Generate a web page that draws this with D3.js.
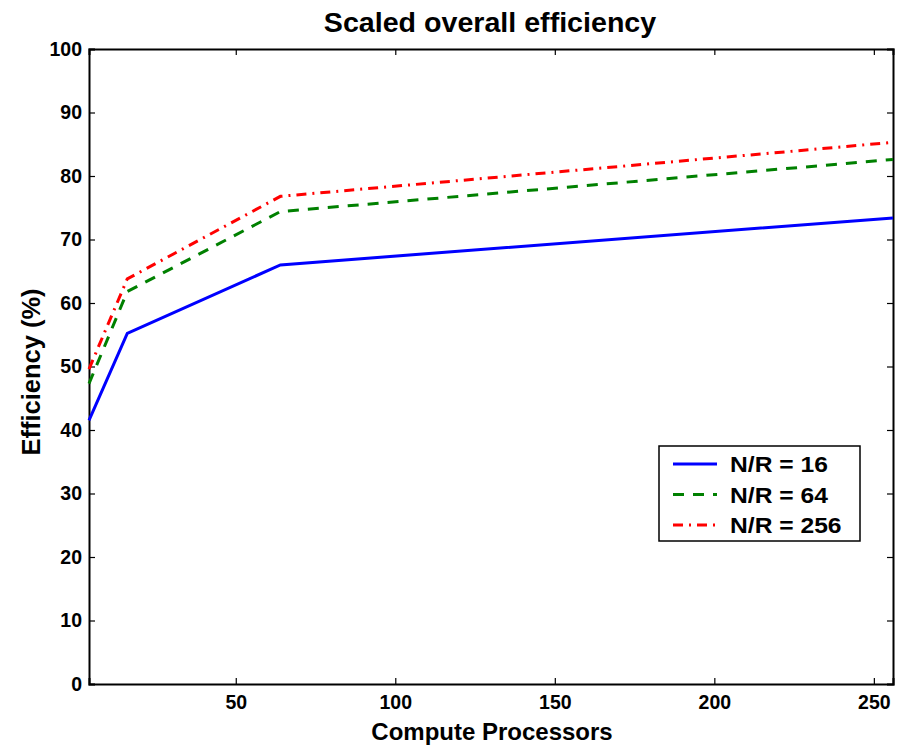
<!DOCTYPE html>
<html><head><meta charset="utf-8">
<script src="https://cdn.jsdelivr.net/npm/d3@7"></script>
<style>body{margin:0;background:#fff}svg{font-family:"Liberation Sans",Arial,sans-serif;font-weight:bold}</style>
</head><body><svg id="c" width="901" height="747"></svg>
<script>
const processors = [4, 16, 64, 256];
const seriesNames = ["N/R = 16", "N/R = 64", "N/R = 256"];
const eff16 = [41.5, 55.2, 66.0, 73.4];
const eff64 = [47.3, 61.8, 74.4, 82.6];
const eff256 = [49.6, 63.8, 76.8, 85.3];
const xTicks = [50, 100, 150, 200, 250];
const yTicks = [0,10,20,30,40,50,60,70,80,90,100];
const colors = ["#0000ff", "#008000", "#ff0000"];
const dashes = [null, "11,9", "10,6,2,6"];

const svg = d3.select("#c");
const L=89, R=893, T=49, B=684;
const x = d3.scaleLinear().domain([4,256]).range([L,R]);
const y = d3.scaleLinear().domain([0,100]).range([B,T]);

const gx = svg.append("g").attr("transform",`translate(0,${B})`)
  .call(d3.axisBottom(x).tickValues(xTicks).tickSize(-6).tickPadding(11));
const gxt = svg.append("g").attr("transform",`translate(0,${T})`)
  .call(d3.axisTop(x).tickValues(xTicks).tickSize(-6).tickFormat(""));
const gy = svg.append("g").attr("transform",`translate(${L},0)`)
  .call(d3.axisLeft(y).tickValues(yTicks).tickSize(-6).tickPadding(7));
const gyr = svg.append("g").attr("transform",`translate(${R},0)`)
  .call(d3.axisRight(y).tickValues(yTicks).tickSize(-6).tickFormat(""));
[gx,gxt,gy,gyr].forEach(g=>{
  g.select(".domain").attr("stroke","#000").attr("stroke-width",2);
  g.selectAll(".tick line").attr("stroke","#000").attr("stroke-width",1.2);
  g.selectAll("text").attr("font-size",19.5).attr("font-weight","bold").attr("fill","#000").attr("font-family","Liberation Sans, Arial, sans-serif");
});

const line = d3.line().x((d,i)=>x(processors[i])).y(d=>y(d));
[eff16,eff64,eff256].forEach((s,i)=>{
  svg.append("path").datum(s).attr("d",line).attr("fill","none")
    .attr("stroke",colors[i]).attr("stroke-width",3)
    .attr("stroke-dasharray",dashes[i]);
});

function stext(px, py, sx, size, txt, anchor, rot){
  const g = svg.append("g").attr("transform",`translate(${px},${py})${rot?" rotate("+rot+")":""} scale(${sx},1)`);
  g.append("text").attr("text-anchor",anchor||"start").attr("font-size",size).text(txt);
  return g;
}
stext(490, 32, 1.06, 27, "Scaled overall efficiency", "middle");
stext(492, 740, 1.0, 24, "Compute Processors", "middle");
stext(40, 372, 1.0, 25.5, "Efficiency (%)", "middle", -90);

const lg = svg.append("g");
lg.append("rect").attr("x",659).attr("y",446).attr("width",201).attr("height",95).attr("fill","#fff").attr("stroke","#000").attr("stroke-width",1.5);
seriesNames.forEach((n,i)=>{
  const yy = 464 + i*30.5;
  lg.append("line").attr("x1",673).attr("x2",717).attr("y1",yy).attr("y2",yy)
    .attr("stroke",colors[i]).attr("stroke-width",3).attr("stroke-dasharray",dashes[i]);
  stext(730, yy+8, 1.12, 22, n, "start");
});
</script></body></html>
